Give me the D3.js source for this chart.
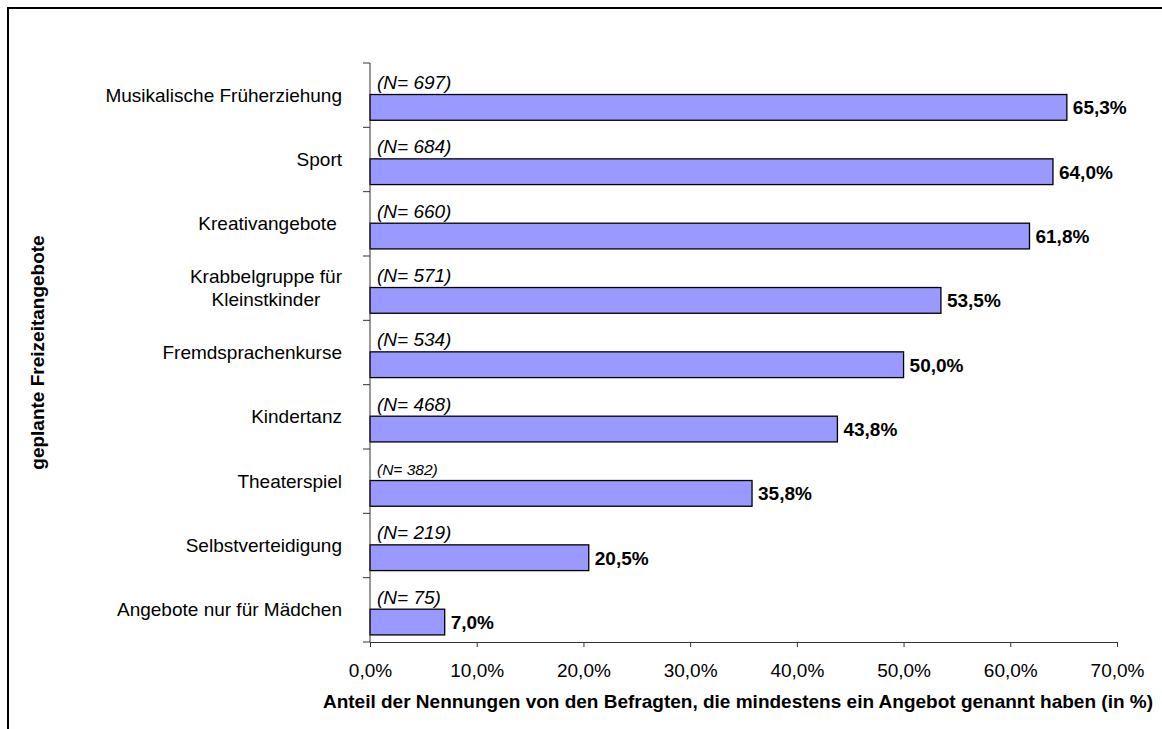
<!DOCTYPE html>
<html>
<head>
<meta charset="utf-8">
<script src="https://cdn.jsdelivr.net/npm/d3@7"></script>
<style>
  html, body { margin: 0; padding: 0; background: #ffffff; }
  svg { display: block; font-family: "Liberation Sans", Arial, sans-serif; }
</style>
</head>
<body>
<svg id="chart" width="1162" height="729"></svg>
<script>
// Planned leisure offers: share of respondents (in %) and number of mentions
const categories = [
  "Musikalische Früherziehung",
  "Sport",
  "Kreativangebote ",
  "Krabbelgruppe für\nKleinstkinder",
  "Fremdsprachenkurse",
  "Kindertanz",
  "Theaterspiel",
  "Selbstverteidigung",
  "Angebote nur für Mädchen"
];
const shares = [65.3, 64.0, 61.8, 53.5, 50.0, 43.8, 35.8, 20.5, 7.0];
const mentions = [697, 684, 660, 571, 534, 468, 382, 219, 75];
const xTickValues = [0, 10, 20, 30, 40, 50, 60, 70];
const xTitle = "Anteil der Nennungen von den Befragten, die mindestens ein Angebot genannt haben (in %)";
const yTitle = "geplante Freizeitangebote";

const de = d3.formatLocale({ decimal: ",", thousands: ".", grouping: [3], currency: ["", " €"] });
const pct = v => de.format(".1f")(v) + "%";

const svg = d3.select("#chart");
const rows = categories.map((c, i) => ({ cat: c, share: shares[i], n: mentions[i] }));

// outer frame
svg.append("rect")
  .attr("x", 8).attr("y", 8)
  .attr("width", 1300).attr("height", 900)
  .attr("fill", "none").attr("stroke", "#000").attr("stroke-width", 2);

const x = d3.scaleLinear().domain([0, 70]).range([370, 1117]);
const y = d3.scaleBand().domain(categories).range([63, 642]).padding(0);
const bw = y.bandwidth();

// bars
const barTop = d => y(d.cat) + bw * 0.49;
const barH = bw * 0.40;
svg.append("g").selectAll("rect").data(rows).join("rect")
  .attr("x", x(0))
  .attr("y", barTop)
  .attr("width", d => x(d.share) - x(0))
  .attr("height", barH)
  .attr("fill", "#9999ff")
  .attr("stroke", "#000")
  .attr("stroke-width", 1.3);

// value labels
svg.append("g").selectAll("text").data(rows).join("text")
  .attr("x", d => x(d.share) + 6)
  .attr("y", d => barTop(d) + barH / 2 + 7)
  .attr("font-size", 19).attr("font-weight", "bold").attr("fill", "#000")
  .text(d => pct(d.share));

// mention counts above bars
svg.append("g").selectAll("text").data(rows).join("text")
  .attr("x", x(0) + 7)
  .attr("y", d => barTop(d) - 5.5)
  .attr("font-size", d => d.cat === "Theaterspiel" ? 15.5 : 19)
  .attr("font-style", "italic").attr("fill", "#000")
  .text(d => "(N= " + d.n + ")");

// y axis: line and ticks at band boundaries
const yAxis = svg.append("g").attr("stroke", "#333").attr("stroke-width", 1);
yAxis.append("line").attr("x1", x(0)).attr("x2", x(0)).attr("y1", y.range()[0]).attr("y2", y.range()[1]);
const bounds = categories.map(c => y(c)).concat([y.range()[1]]);
yAxis.selectAll("line.tick").data(bounds).join("line")
  .attr("class", "tick")
  .attr("x1", x(0) - 7).attr("x2", x(0))
  .attr("y1", d => d).attr("y2", d => d);

// category labels (multi-line labels are centred as a block)
const labelRight = 342;
const lineH = 23;
rows.forEach(d => {
  const lines = d.cat.split("\n");
  const cy = y(d.cat) + bw / 2;
  const g = svg.append("g");
  const texts = lines.map((ln, j) => g.append("text")
    .attr("y", cy + 6.6 - (lines.length - 1) * lineH / 2 + j * lineH)
    .attr("font-size", 19).attr("fill", "#000")
    .style("white-space", "pre")
    .text(ln));
  if (lines.length === 1) {
    texts[0].attr("x", labelRight).attr("text-anchor", "end");
  } else {
    const maxW = d3.max(texts, t => t.node().getComputedTextLength());
    texts.forEach(t => t.attr("x", labelRight - maxW / 2).attr("text-anchor", "middle"));
  }
});

// x axis
const xAxis = svg.append("g")
  .attr("transform", `translate(0,${y.range()[1]})`)
  .call(d3.axisBottom(x).tickValues(xTickValues).tickSize(5).tickPadding(16.5).tickFormat(pct));
xAxis.selectAll("path, line").attr("stroke", "#333").attr("stroke-width", 1);
xAxis.selectAll("text")
  .attr("font-size", 19).attr("fill", "#000")
  .attr("font-family", "\"Liberation Sans\", Arial, sans-serif");

// axis titles
svg.append("text")
  .attr("x", 738).attr("y", 708)
  .attr("text-anchor", "middle")
  .attr("font-size", 19).attr("font-weight", "bold").attr("fill", "#000")
  .text(xTitle);

svg.append("text")
  .attr("transform", `translate(44,${(y.range()[0] + y.range()[1]) / 2}) rotate(-90)`)
  .attr("text-anchor", "middle")
  .attr("font-size", 19).attr("font-weight", "bold").attr("fill", "#000")
  .text(yTitle);
</script>
</body>
</html>
